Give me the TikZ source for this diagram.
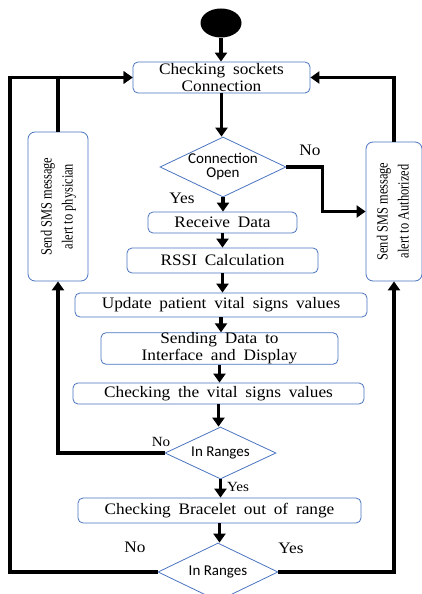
\documentclass[tikz,border=0pt]{standalone}
\usepackage{fontspec}
\usepackage{graphicx}
\usetikzlibrary{shapes.geometric,arrows.meta}
\newfontfamily\boxfont{Liberation Serif}[FakeStretch=1.08,WordSpace=1.8]
\newfontfamily\sidefont{Liberation Serif}[FakeStretch=0.8]
\newfontfamily\decfont{Carlito}
\definecolor{boxblue}{RGB}{74,116,190}

\begin{document}
\begin{tikzpicture}[x=1pt, y=-1pt, >={Triangle[width=12pt,length=9pt]},
  box/.style={draw=boxblue, line width=0.8pt, rounded corners=5pt, align=center, inner sep=0pt, font=\boxfont\fontsize{16}{17}\selectfont},
  decision/.style={draw=boxblue, line width=0.8pt, diamond, aspect=2.1, inner sep=0pt, inner xsep=-3pt, align=center, font=\decfont\fontsize{15}{14}\selectfont},
  side box/.style={draw=boxblue, line width=0.8pt, rounded corners=7pt, inner sep=0pt, font=\sidefont\fontsize{15.5}{21}\selectfont},
  flow/.style={->, line width=3.6pt},
  lbl/.style={inner sep=0pt, font=\boxfont\fontsize{16}{17}\selectfont},
  small lbl/.style={inner sep=0pt, font=\boxfont\fontsize{14}{15}\selectfont}]
\useasboundingbox (0,0) rectangle (422,594);

\node[ellipse, fill=black, minimum width=41pt, minimum height=29pt, inner sep=0pt] (start) at (221,23) {};
\node[box, minimum width=177pt, minimum height=31pt] (sock) at (221.5,77.5) {Checking sockets\\Connection};
\node[decision, minimum width=126pt, minimum height=60pt] (conn) at (223,167) {Connection\\Open};
\node[box, minimum width=149pt, minimum height=21pt] (recv) at (222.5,222.5) {Receive Data};
\node[box, minimum width=191pt, minimum height=25pt] (rssi) at (222.5,260.5) {RSSI Calculation};
\node[box, minimum width=292pt, minimum height=24pt] (upd) at (221,305) {Update patient vital signs values};
\node[box, minimum width=237pt, minimum height=29pt] (send) at (219.5,348.5) {Sending Data to\\Interface and Display};
\node[box, minimum width=291pt, minimum height=21pt] (chk) at (218.5,393.5) {Checking the vital signs values};
\node[decision, minimum width=111pt, minimum height=52pt] (rng1) at (220.5,453) {In Ranges};
\node[box, minimum width=283pt, minimum height=25pt] (brc) at (219.5,510.5) {Checking Bracelet out of range};
\node[decision, minimum width=120pt, minimum height=58pt] (rng2) at (218,572) {In Ranges};

\node[side box, minimum width=60pt, minimum height=149pt] (smsL) at (58,206.5)
  {\rotatebox{90}{\begin{tabular}{@{}c@{}}Send SMS message\\alert to physician\end{tabular}}};
\node[side box, minimum width=56pt, minimum height=139pt] (smsR) at (394,211.5)
  {\rotatebox{90}{\begin{tabular}{@{}c@{}}Send SMS message\\alert to Authorized\end{tabular}}};

% labels
\node[lbl] (yes1) at (182,198) {Yes};
\node[lbl] (no1) at (310,150) {No};
\node[small lbl] (no2) at (161,442) {No};
\node[small lbl] (yes2) at (238,487) {Yes};
\node[lbl] (no3) at (135,547) {No};
\node[lbl] (yes3) at (291,548) {Yes};

\path[flow]
(start.south) edge (start.south |- sock.north)
(sock.south) edge (sock.south |- conn.north)
(conn.south) edge (conn.south |- recv.north)
(recv.south) edge (recv.south |- rssi.north)
(rssi.south) edge (rssi.south |- upd.north)
(upd.south) edge (upd.south |- send.north)
(send.south) edge (send.south |- chk.north)
(chk.south) edge (chk.south |- rng1.north)
(rng1.south) edge (rng1.south |- brc.north)
(brc.south) edge (brc.south |- rng2.north)
;

\draw[flow] (conn.east) -- ++(36,0) |- (smsR.west);
\draw[flow] (rng1.west) -| (smsL.south);
\draw[flow] (smsL.north) |- (sock.west);
\draw[flow] (rng2.west) -- (10,572) |- (sock.west);
\draw[flow] (rng2.east) -| (smsR.south);
\draw[flow] (smsR.north) |- (sock.east);
\end{tikzpicture}
\end{document}
